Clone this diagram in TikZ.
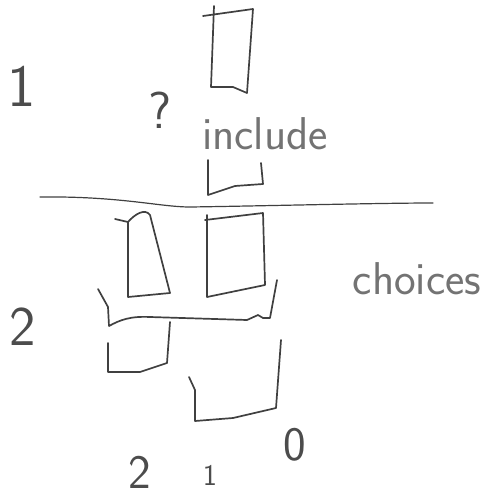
\documentclass[tikz,border=0pt]{standalone}
\usepackage{fontspec}
\begin{document}
\begin{tikzpicture}[x=1pt,y=-1pt,
  stroke/.style={draw=black!75, line width=1.7pt, line join=round, line cap=round},
  hand/.style={text=black!55, font=\sffamily\fontsize{#1}{#1}\selectfont, inner sep=0pt},
  num/.style={text=black!70, font=\sffamily\fontsize{#1}{#1}\selectfont, inner sep=0pt}]
\useasboundingbox (0,0) rectangle (485,497);
% top box
\draw[stroke] (203,16) -- (253,9) -- (247,93) -- (233,87) -- (211,87) -- (214,6);
% small bucket under include
\draw[stroke] (208,160) -- (208,195) -- (235,186) -- (263,184) -- (261,163);
% divider line
\draw[stroke, line width=1.2pt] (40,197) .. controls (120,196) and (160,207) .. (190,207) .. controls (260,206) and (380,203) .. (433,203);
% left tall box
\draw[stroke] (115,219) -- (128,222) .. controls (135,214) and (145,208) .. (150,215) -- (170,293) -- (128,297) -- (128,222);
% right box
\draw[stroke] (205,220) -- (263,213) -- (265,285) -- (207,297) -- (207,215);
% wide bracket
\draw[stroke] (98,289) -- (108,307) -- (109,326) .. controls (120,320) and (130,316) .. (150,317) -- (247,320) -- (258,315) -- (263,318) -- (270,318) -- (277,280);
% small lower left box
\draw[stroke] (108,343) -- (108,372) -- (140,372) -- (167,363) -- (170,322);
% bottom box
\draw[stroke] (189,377) -- (195,390) -- (195,421) -- (233,418) -- (276,408) -- (281,340);
% labels
\node[num=60] (one) at (22,86) {1};
\node[num=52] (q) at (160,110) {?};
\node[hand=46] (inc) at (265,134) {include};
\node[hand=46] (cho) at (417,279) {choices};
\node[num=56] (two) at (23,327) {2};
\node[num=48] (twob) at (140,472) {2};
\node[num=30] (oneb) at (210,475) {1};
\node[num=48] (zero) at (295,445) {0};
\end{tikzpicture}
\end{document}
